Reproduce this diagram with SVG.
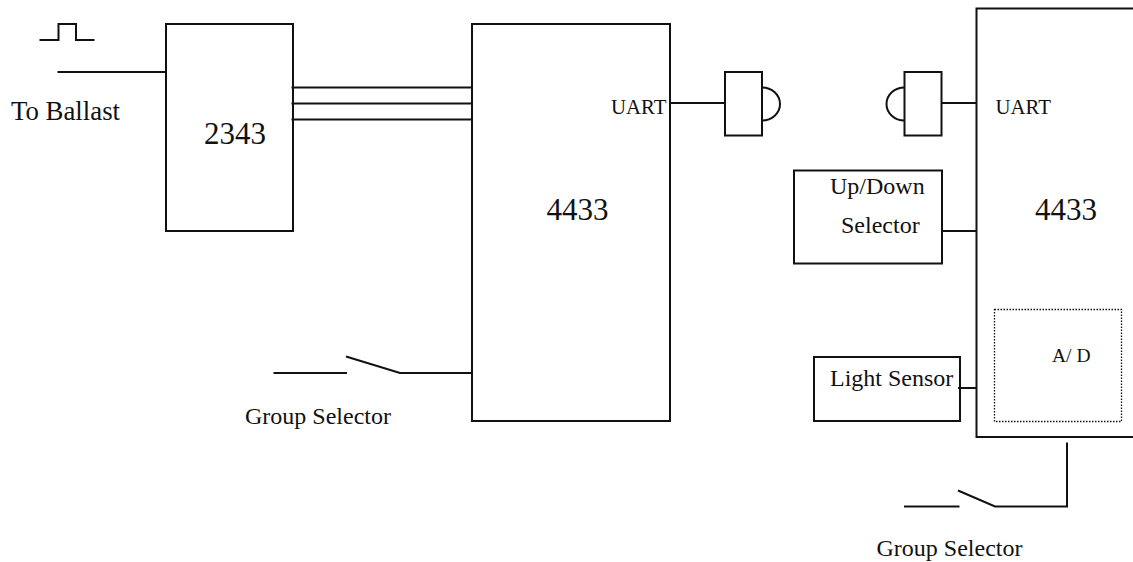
<svg xmlns="http://www.w3.org/2000/svg" width="1133" height="562" viewBox="0 0 1133 562">
<style>
text{font-family:"Liberation Serif","Times New Roman",serif;fill:#111}
.b{fill:#fff;stroke:#111;stroke-width:2}
.l{fill:none;stroke:#111;stroke-width:2}
.s{font-size:24px}.x{font-size:20.800px}.g{font-size:31px}
</style>
<rect width="1133" height="562" fill="#fff"/>
<g id="node-2343"><rect class="b" x="166" y="24" width="127" height="207"/><text class="g" x="204" y="144">2343</text></g>
<g id="node-4433-left"><rect class="b" x="472" y="24" width="198" height="397"/><text class="g" x="546.500" y="219.500">4433</text><text class="x" x="611" y="114">UART</text></g>
<g id="node-plug-left"><rect class="b" x="725" y="72" width="37" height="63.500"/><path class="l" d="M762 87.500A18 16.500 0 0 1 762 120.500"/></g>
<g id="node-plug-right"><rect class="b" x="904.500" y="72" width="37" height="63.500"/><path class="l" d="M904.500 87.500A18 16.500 0 0 0 904.500 120.500"/></g>
<g id="node-4433-right"><rect class="b" x="976.500" y="8.500" width="160" height="428.500"/><text class="g" x="1035" y="219.500">4433</text><text class="x" x="995.500" y="114">UART</text>
<rect x="994.500" y="309.500" width="127" height="112" fill="none" stroke="#111" stroke-width="1.300" stroke-dasharray="1.500 1.500"/><text class="x" x="1052" y="362" style="font-size:19.500px">A/ D</text></g>
<g id="node-updown"><rect class="b" x="794" y="170.500" width="148" height="93"/><text class="s" x="830" y="194">Up/Down</text><text class="s" x="841" y="233">Selector</text></g>
<g id="node-light"><rect class="b" x="814" y="357" width="146" height="64"/><text class="s" x="830" y="386">Light Sensor</text></g>
<g id="labels"><text class="s" x="11" y="120" style="font-size:26.800px">To Ballast</text><text class="s" x="245" y="424">Group Selector</text><text class="s" x="876.500" y="556">Group Selector</text></g>
<g id="connectors">
<path class="l" d="M39.500 40H58.500V24H76V40H94.500"/>
<path class="l" d="M57.500 72H166"/>
<path class="l" d="M291.500 87.500H472M291.500 103.500H472M291.500 119.500H472"/>
<path class="l" d="M670 103H725"/>
<path class="l" d="M941.500 103H976.500"/>
<path class="l" d="M942 231H976.500"/>
<path class="l" d="M958 388H976.500"/>
<path class="l" d="M273.500 373H347M346 356.500L400 373H472"/>
<path class="l" d="M904 506.500H959.500M958 490.500L995 506.500H1067V442.500"/>
</g>
</svg>
